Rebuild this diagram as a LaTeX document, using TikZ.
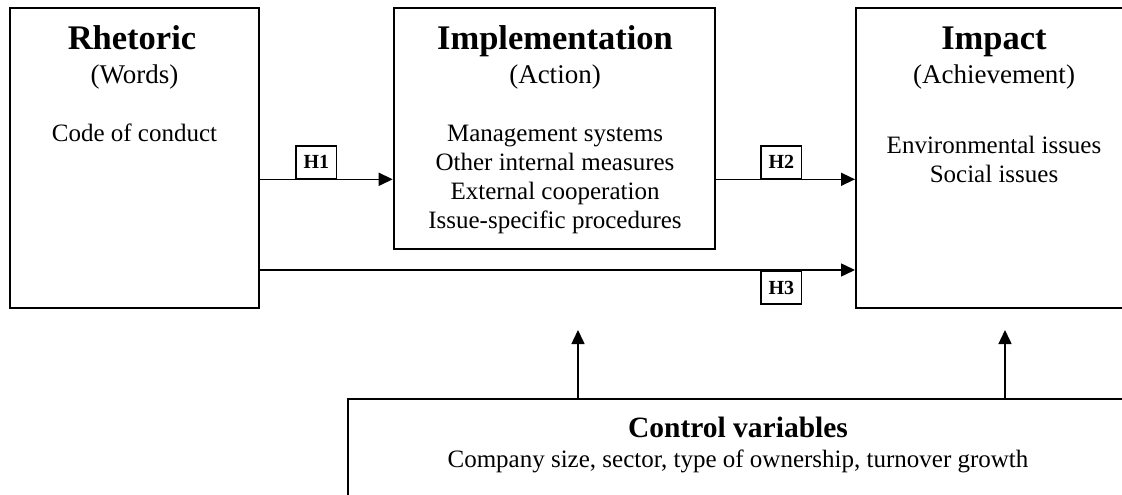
\documentclass[tikz,border=0pt]{standalone}
\usepackage{fontspec}
\setmainfont{Liberation Serif}
\usetikzlibrary{arrows.meta}
\begin{document}
\begin{tikzpicture}[x=1pt,y=-1pt,
  box/.style={draw, line width=2pt, inner sep=0pt, rectangle},
  arr/.style={line width=1.5pt, -{Triangle[length=14pt,width=13pt]}},
  hbox/.style={draw, fill=white, line width=1.5pt, inner sep=0pt,
    minimum width=40.5pt, minimum height=32.5pt,
    font=\fontsize{20}{20}\selectfont\bfseries},
  title/.style={anchor=base, inner sep=0pt, font=\fontsize{34.5}{36}\selectfont\bfseries},
  sub/.style={anchor=base, inner sep=0pt, font=\fontsize{27}{30}\selectfont},
  body/.style={anchor=base, inner sep=0pt, font=\fontsize{25}{29}\selectfont},
]
\useasboundingbox (0,0) rectangle (1122,495);
\clip (0,0) rectangle (1122,495);

% main boxes
\node[box, minimum width=249pt, minimum height=300pt] (rhet) at (134.5,158) {};
\node[box, minimum width=321.3pt, minimum height=241pt] (impl) at (554.35,128.5) {};
\node[box, minimum width=274pt, minimum height=300pt] (imp) at (993,158) {};
\node[box, minimum width=780pt, minimum height=131pt] (ctrl) at (738,464.5) {};

% box texts
\node[title] (rhetT) at (132,50) {Rhetoric};
\node[sub] (rhetS) at (134.5,84) {(Words)};
\node[body] (rhetB) at (134.5,141) {Code of conduct};

\node[title] (implT) at (555,50) {Implementation};
\node[sub] (implS) at (555,84) {(Action)};
\node[body] (implB1) at (555,141) {Management systems};
\node[body] (implB2) at (555,170) {Other internal measures};
\node[body] (implB3) at (555,199) {External cooperation};
\node[body] (implB4) at (555,228) {Issue-specific procedures};

\node[title] (impT) at (994,50) {Impact};
\node[sub] (impS) at (994,84) {(Achievement)};
\node[body] (impB1) at (994,153) {Environmental issues};
\node[body] (impB2) at (994,182) {Social issues};

\node[anchor=base, inner sep=0pt, font=\fontsize{29.5}{32}\selectfont\bfseries] (ctrlT) at (738,437) {Control variables};
\node[body] (ctrlB) at (738,467) {Company size, sector, type of ownership, turnover growth};

% connectors
\coordinate (upper) at (0,179.3);
\coordinate (lower) at (0,270);
\coordinate (tipA) at (578,330);
\coordinate (tipB) at (1005,330);
\draw[arr] (rhet.east |- upper) -- (impl.west |- upper);
\draw[arr] (impl.east |- upper) -- (imp.west |- upper);
\draw[arr] (rhet.east |- lower) -- (imp.west |- lower);
\draw[arr] (ctrl.north -| tipA) -- (tipA);
\draw[arr] (ctrl.north -| tipB) -- (tipB);

% hypothesis labels
\node[hbox, anchor=south] (h1) at (316.4,179.3) {H1};
\node[hbox, anchor=south] (h2) at (781.4,179.3) {H2};
\node[hbox, anchor=north] (h3) at (781.4,270.7) {H3};
\end{tikzpicture}
\end{document}
